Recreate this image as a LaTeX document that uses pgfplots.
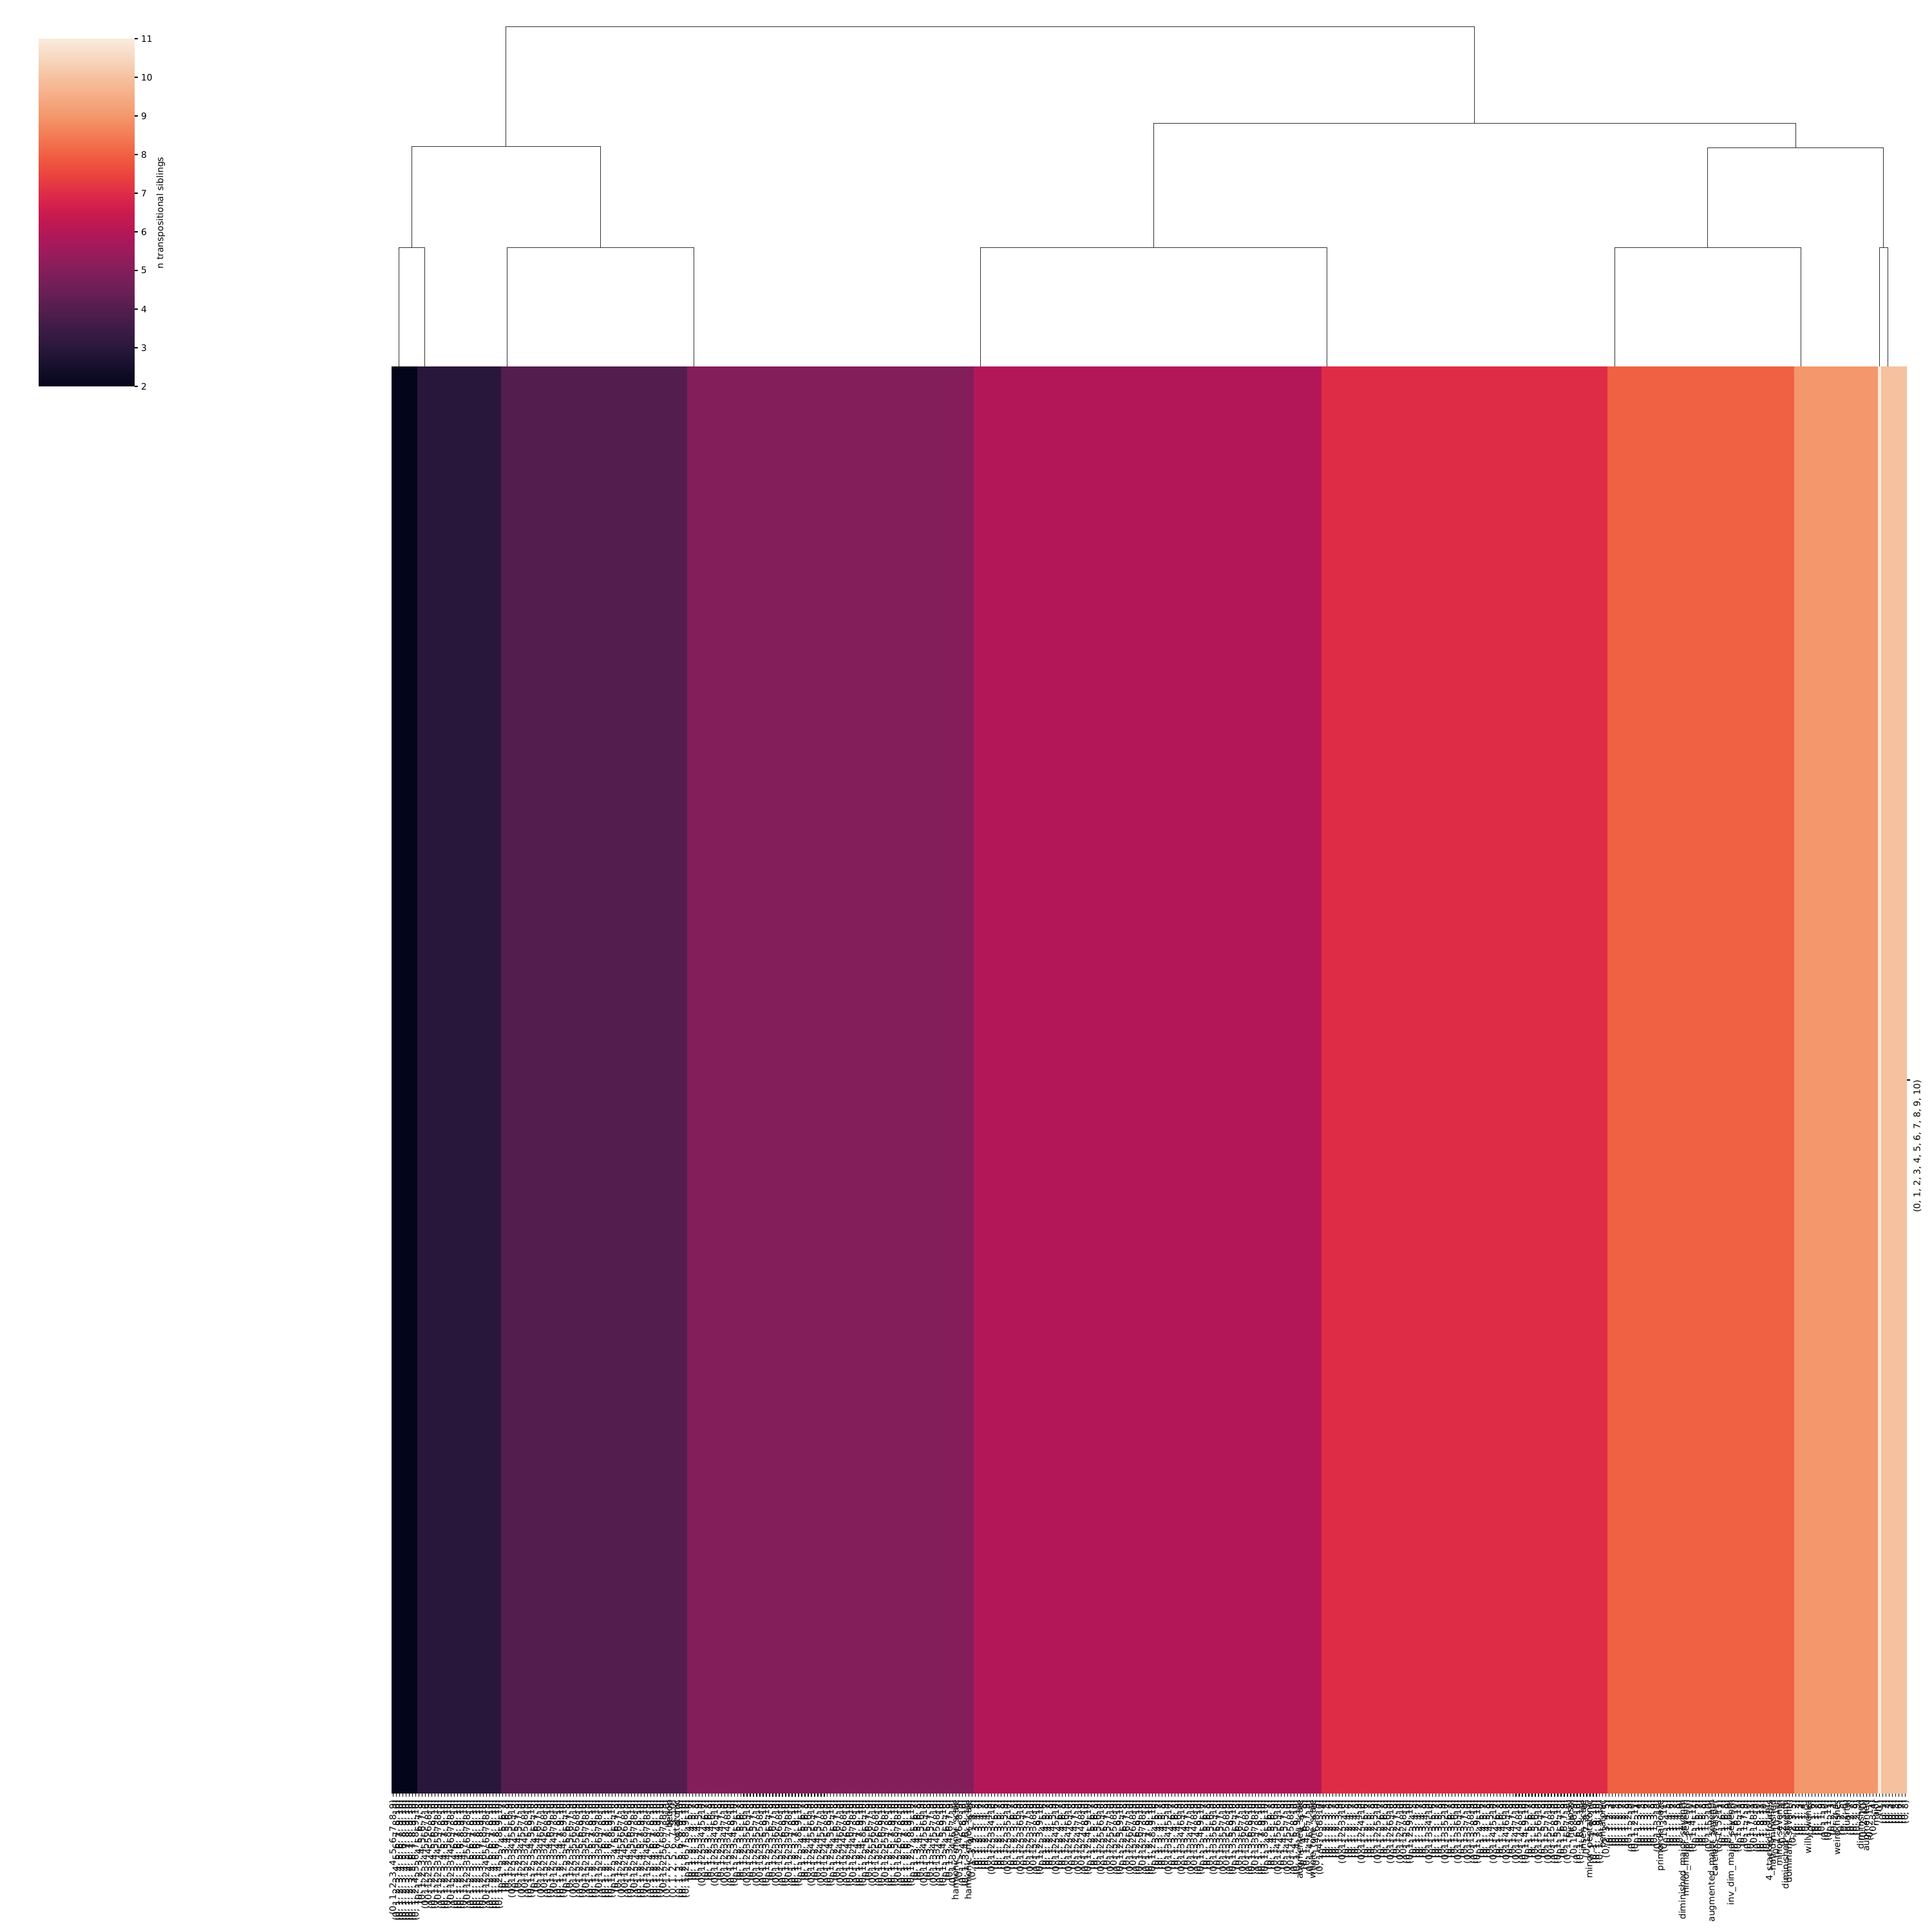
\documentclass[border=0pt]{standalone}
\usepackage{fontspec}
\setmainfont{DejaVu Sans}
\usepackage{pgfplots}
\pgfplotsset{compat=1.18}
\pgfplotsset{/pgf/number format/assume math mode=true}
\pgfplotsset{colormap={rocket}{rgb255=(3,5,26) rgb255=(22,15,43) rgb255=(41,23,59) rgb255=(62,27,70) rgb255=(83,30,78) rgb255=(108,31,86) rgb255=(131,30,90) rgb255=(157,27,92) rgb255=(180,23,87) rgb255=(203,27,79) rgb255=(222,44,70) rgb255=(235,69,61) rgb255=(240,96,67) rgb255=(243,124,85) rgb255=(244,151,108) rgb255=(245,172,133) rgb255=(246,193,159) rgb255=(248,215,192) rgb255=(250,235,221)}}
\definecolor{c2}{RGB}{3,5,26}
\definecolor{c3}{RGB}{41,23,59}
\definecolor{c4}{RGB}{83,30,78}
\definecolor{c5}{RGB}{131,30,90}
\definecolor{c6}{RGB}{180,23,87}
\definecolor{c7}{RGB}{222,44,70}
\definecolor{c8}{RGB}{240,96,67}
\definecolor{c9}{RGB}{244,151,108}
\definecolor{c10}{RGB}{246,193,159}
\definecolor{c11}{RGB}{250,235,221}
\definecolor{dend}{RGB}{51,51,51}
\tikzset{dendline/.style={dend, line width=0.6pt, mark=none, solid}}
\begin{document}
\begin{tikzpicture}
\useasboundingbox (0,0) rectangle (2160pt,2160pt);
% ---------------- heatmap (one row, 471 columns) ----------------
\begin{axis}[
  at={(437.76pt,154.8pt)}, anchor=south west,
  scale only axis, width=1694.16pt, height=1595.52pt,
  xmin=0, xmax=471, ymin=0, ymax=1,
  axis line style={draw=none},
  tick align=outside, major tick length=3.5pt,
  tick style={black, line width=0.8pt},
  xtick pos=left, ytick pos=right, yticklabel pos=right,
  xtick={0.5,1.5,...,470.5},
  xticklabel style={rotate=90, anchor=east, inner sep=0pt, font=\fontsize{10}{12}\selectfont},
  xticklabel shift=3.5pt,
  ytick={0.5},
  yticklabels={{(0, 1, 2, 3, 4, 5, 6, 7, 8, 9, 10)}},
  yticklabel style={rotate=90, anchor=north east, inner sep=0pt, font=\fontsize{10}{12}\selectfont},
  yticklabel shift=3.5pt,
  colormap name=rocket, point meta min=2, point meta max=11,
  colorbar,
  colorbar shift/.style={},
  colorbar/width=107.28pt,
  colorbar style={
    at={(parent axis.north west)}, anchor=north west,
    xshift=-394.56pt, yshift=366.48pt,
    scale only axis, width=107.28pt, height=388.8pt,
    axis line style={draw=none},
    xtick=\empty,
    ytick={2,3,...,11},
    ytick pos=right, yticklabel pos=right,
    tick align=outside, major tick length=3.5pt,
    tick style={black, line width=0.8pt},
    yticklabel style={anchor=west, inner sep=0pt, font=\fontsize{10}{12}\selectfont},
    yticklabel shift=3.5pt,
  },
  xticklabels={
  % value 2
  {(0, 1, 2, 3, 4, 5, 6, 7, 8, 9)},{(0, 1, 2, 3, 4, 5, 6, 7, 8, 10)},{(0, 1, 2, 3, 4, 5, 6, 7, 9, 10)},{(0, 1, 2, 3, 4, 5, 6, 8, 9, 10)},{(0, 1, 2, 3, 4, 5, 7, 8, 9, 10)},{(0, 1, 2, 3, 4, 6, 7, 8, 9, 10)},{(0, 1, 2, 3, 5, 6, 7, 8, 9, 10)},{(0, 1, 2, 4, 5, 6, 7, 8, 9, 10)},
  % value 3
  {(0, 1, 2, 3, 4, 5, 6, 7, 8)},{(0, 1, 2, 3, 4, 5, 6, 7, 9)},{(0, 1, 2, 3, 4, 5, 6, 7, 10)},{(0, 1, 2, 3, 4, 5, 6, 8, 9)},{(0, 1, 2, 3, 4, 5, 6, 8, 10)},{(0, 1, 2, 3, 4, 5, 6, 9, 10)},{(0, 1, 2, 3, 4, 5, 7, 8, 9)},{(0, 1, 2, 3, 4, 5, 7, 8, 10)},{(0, 1, 2, 3, 4, 5, 7, 9, 10)},{(0, 1, 2, 3, 4, 5, 8, 9, 10)},{(0, 1, 2, 3, 4, 6, 7, 8, 9)},{(0, 1, 2, 3, 4, 6, 7, 8, 10)},{(0, 1, 2, 3, 4, 6, 7, 9, 10)},{(0, 1, 2, 3, 4, 6, 8, 9, 10)},{(0, 1, 2, 3, 4, 7, 8, 9, 10)},{(0, 1, 2, 3, 5, 6, 7, 8, 9)},{(0, 1, 2, 3, 5, 6, 7, 8, 10)},{(0, 1, 2, 3, 5, 6, 7, 9, 10)},{(0, 1, 2, 3, 5, 6, 8, 9, 10)},{(0, 1, 2, 3, 5, 7, 8, 9, 10)},{(0, 1, 2, 3, 6, 7, 8, 9, 10)},{(0, 1, 2, 4, 5, 6, 7, 8, 9)},{(0, 1, 2, 4, 5, 6, 7, 8, 10)},{(0, 1, 2, 4, 5, 6, 7, 9, 10)},{(0, 1, 2, 4, 5, 6, 8, 9, 10)},{(0, 1, 2, 4, 5, 7, 8, 9, 10)},
  % value 4
  {(0, 1, 2, 3, 4, 5, 6, 7)},{(0, 1, 2, 3, 4, 5, 6, 8)},{(0, 1, 2, 3, 4, 5, 6, 9)},{(0, 1, 2, 3, 4, 5, 6, 10)},{(0, 1, 2, 3, 4, 5, 7, 8)},{(0, 1, 2, 3, 4, 5, 7, 9)},{(0, 1, 2, 3, 4, 5, 7, 10)},{(0, 1, 2, 3, 4, 5, 8, 9)},{(0, 1, 2, 3, 4, 5, 8, 10)},{(0, 1, 2, 3, 4, 5, 9, 10)},
  {(0, 1, 2, 3, 4, 6, 7, 8)},{(0, 1, 2, 3, 4, 6, 7, 9)},{(0, 1, 2, 3, 4, 6, 7, 10)},{(0, 1, 2, 3, 4, 6, 8, 9)},{(0, 1, 2, 3, 4, 6, 8, 10)},{(0, 1, 2, 3, 4, 6, 9, 10)},{(0, 1, 2, 3, 4, 7, 8, 9)},{(0, 1, 2, 3, 4, 7, 8, 10)},{(0, 1, 2, 3, 4, 7, 9, 10)},{(0, 1, 2, 3, 4, 8, 9, 10)},
  {(0, 1, 2, 3, 5, 6, 7, 8)},{(0, 1, 2, 3, 5, 6, 7, 9)},{(0, 1, 2, 3, 5, 6, 7, 10)},{(0, 1, 2, 3, 5, 6, 8, 9)},{(0, 1, 2, 3, 5, 6, 8, 10)},{(0, 1, 2, 3, 5, 6, 9, 10)},{(0, 1, 2, 3, 5, 7, 8, 9)},{(0, 1, 2, 3, 5, 7, 8, 10)},{(0, 1, 2, 3, 5, 7, 9, 10)},{(0, 1, 2, 3, 5, 8, 9, 10)},
  {(0, 1, 2, 3, 6, 7, 8, 9)},{(0, 1, 2, 3, 6, 7, 8, 10)},{(0, 1, 2, 3, 6, 7, 9, 10)},{(0, 1, 2, 3, 6, 8, 9, 10)},{(0, 1, 2, 3, 7, 8, 9, 10)},{(0, 1, 2, 4, 5, 6, 7, 8)},{(0, 1, 2, 4, 5, 6, 7, 9)},{(0, 1, 2, 4, 5, 6, 7, 10)},{(0, 1, 2, 4, 5, 6, 8, 9)},{(0, 1, 2, 4, 5, 6, 8, 10)},
  {(0, 1, 2, 4, 5, 6, 9, 10)},{(0, 1, 2, 4, 5, 7, 8, 9)},{(0, 1, 2, 4, 5, 7, 8, 10)},{(0, 1, 2, 4, 5, 7, 9, 10)},{(0, 1, 2, 4, 5, 8, 9, 10)},{(0, 1, 2, 4, 6, 7, 8, 9)},{(0, 1, 2, 4, 6, 7, 8, 10)},{(0, 1, 2, 4, 6, 7, 9, 10)},{(0, 1, 2, 4, 6, 8, 9, 10)},{(0, 1, 2, 4, 7, 8, 9, 10)},
  {(0, 1, 2, 5, 6, 7, 8, 9)},{(0, 1, 2, 5, 6, 7, 8, 10)},{bebop},{(0, 1, 2, 5, 6, 7, 9, 10)},{octatonic},{(0, 1, 2, 5, 6, 8, 9, 10)},{(0, 1, 2, 5, 7, 8, 9, 10)},{(0, 1, 2, 6, 7, 8, 9, 10)},
  % value 5
  {(0, 1, 2, 3, 4, 5, 6)},{(0, 1, 2, 3, 4, 5, 7)},{(0, 1, 2, 3, 4, 5, 8)},{(0, 1, 2, 3, 4, 5, 9)},{(0, 1, 2, 3, 4, 5, 10)},{(0, 1, 2, 3, 4, 6, 7)},{(0, 1, 2, 3, 4, 6, 8)},{(0, 1, 2, 3, 4, 6, 9)},{(0, 1, 2, 3, 4, 6, 10)},{(0, 1, 2, 3, 4, 7, 8)},
  {(0, 1, 2, 3, 4, 7, 9)},{(0, 1, 2, 3, 4, 7, 10)},{(0, 1, 2, 3, 4, 8, 9)},{(0, 1, 2, 3, 4, 8, 10)},{(0, 1, 2, 3, 4, 9, 10)},{(0, 1, 2, 3, 5, 6, 7)},{(0, 1, 2, 3, 5, 6, 8)},{(0, 1, 2, 3, 5, 6, 9)},{(0, 1, 2, 3, 5, 6, 10)},{(0, 1, 2, 3, 5, 7, 8)},
  {(0, 1, 2, 3, 5, 7, 9)},{(0, 1, 2, 3, 5, 7, 10)},{(0, 1, 2, 3, 5, 8, 9)},{(0, 1, 2, 3, 5, 8, 10)},{(0, 1, 2, 3, 5, 9, 10)},{(0, 1, 2, 3, 6, 7, 8)},{(0, 1, 2, 3, 6, 7, 9)},{(0, 1, 2, 3, 6, 7, 10)},{(0, 1, 2, 3, 6, 8, 9)},{(0, 1, 2, 3, 6, 8, 10)},
  {(0, 1, 2, 3, 6, 9, 10)},{(0, 1, 2, 3, 7, 8, 9)},{(0, 1, 2, 3, 7, 8, 10)},{(0, 1, 2, 3, 7, 9, 10)},{(0, 1, 2, 3, 8, 9, 10)},{(0, 1, 2, 4, 5, 6, 7)},{(0, 1, 2, 4, 5, 6, 8)},{(0, 1, 2, 4, 5, 6, 9)},{(0, 1, 2, 4, 5, 6, 10)},{(0, 1, 2, 4, 5, 7, 8)},
  {(0, 1, 2, 4, 5, 7, 9)},{(0, 1, 2, 4, 5, 7, 10)},{(0, 1, 2, 4, 5, 8, 9)},{(0, 1, 2, 4, 5, 8, 10)},{(0, 1, 2, 4, 5, 9, 10)},{(0, 1, 2, 4, 6, 7, 8)},{(0, 1, 2, 4, 6, 7, 9)},{(0, 1, 2, 4, 6, 7, 10)},{(0, 1, 2, 4, 6, 8, 9)},{(0, 1, 2, 4, 6, 8, 10)},
  {(0, 1, 2, 4, 6, 9, 10)},{(0, 1, 2, 4, 7, 8, 9)},{(0, 1, 2, 4, 7, 8, 10)},{(0, 1, 2, 4, 7, 9, 10)},{(0, 1, 2, 4, 8, 9, 10)},{(0, 1, 2, 5, 6, 7, 8)},{(0, 1, 2, 5, 6, 7, 9)},{(0, 1, 2, 5, 6, 7, 10)},{(0, 1, 2, 5, 6, 8, 9)},{(0, 1, 2, 5, 6, 8, 10)},
  {(0, 1, 2, 5, 6, 9, 10)},{(0, 1, 2, 5, 7, 8, 9)},{(0, 1, 2, 5, 7, 8, 10)},{(0, 1, 2, 5, 7, 9, 10)},{(0, 1, 2, 5, 8, 9, 10)},{(0, 1, 2, 6, 7, 8, 9)},{(0, 1, 2, 6, 7, 8, 10)},{(0, 1, 2, 6, 7, 9, 10)},{(0, 1, 2, 6, 8, 9, 10)},{(0, 1, 2, 7, 8, 9, 10)},
  {(0, 1, 3, 4, 5, 6, 7)},{(0, 1, 3, 4, 5, 6, 8)},{(0, 1, 3, 4, 5, 6, 9)},{(0, 1, 3, 4, 5, 6, 10)},{(0, 1, 3, 4, 5, 7, 8)},{(0, 1, 3, 4, 5, 7, 9)},{(0, 1, 3, 4, 5, 7, 10)},{(0, 1, 3, 4, 5, 8, 9)},{(0, 1, 3, 4, 5, 8, 10)},{(0, 1, 3, 4, 5, 9, 10)},
  {(0, 1, 3, 4, 6, 7, 8)},{(0, 1, 3, 4, 6, 7, 9)},{(0, 1, 3, 4, 6, 7, 10)},{harmonic\_minor\_scale},{(0, 1, 3, 4, 6, 8, 9)},{(0, 1, 3, 4, 6, 8, 10)},{(0, 1, 3, 4, 6, 9, 10)},{harmonic\_major\_scale},{(0, 1, 3, 4, 7, 8, 9)},
  % value 6
  {(0, 1, 2, 3, 4, 5)},{(0, 1, 2, 3, 4, 6)},{(0, 1, 2, 3, 4, 7)},{(0, 1, 2, 3, 4, 8)},{(0, 1, 2, 3, 4, 9)},{(0, 1, 2, 3, 4, 10)},{(0, 1, 2, 3, 5, 6)},{(0, 1, 2, 3, 5, 7)},{(0, 1, 2, 3, 5, 8)},{(0, 1, 2, 3, 5, 9)},
  {(0, 1, 2, 3, 5, 10)},{(0, 1, 2, 3, 6, 7)},{(0, 1, 2, 3, 6, 8)},{(0, 1, 2, 3, 6, 9)},{(0, 1, 2, 3, 6, 10)},{(0, 1, 2, 3, 7, 8)},{(0, 1, 2, 3, 7, 9)},{(0, 1, 2, 3, 7, 10)},{(0, 1, 2, 3, 8, 9)},{(0, 1, 2, 3, 8, 10)},
  {(0, 1, 2, 3, 9, 10)},{(0, 1, 2, 4, 5, 6)},{(0, 1, 2, 4, 5, 7)},{(0, 1, 2, 4, 5, 8)},{(0, 1, 2, 4, 5, 9)},{(0, 1, 2, 4, 5, 10)},{(0, 1, 2, 4, 6, 7)},{(0, 1, 2, 4, 6, 8)},{(0, 1, 2, 4, 6, 9)},{(0, 1, 2, 4, 6, 10)},
  {(0, 1, 2, 4, 7, 8)},{(0, 1, 2, 4, 7, 9)},{(0, 1, 2, 4, 7, 10)},{(0, 1, 2, 4, 8, 9)},{(0, 1, 2, 4, 8, 10)},{(0, 1, 2, 4, 9, 10)},{(0, 1, 2, 5, 6, 7)},{(0, 1, 2, 5, 6, 8)},{(0, 1, 2, 5, 6, 9)},{(0, 1, 2, 5, 6, 10)},
  {(0, 1, 2, 5, 7, 8)},{(0, 1, 2, 5, 7, 9)},{(0, 1, 2, 5, 7, 10)},{(0, 1, 2, 5, 8, 9)},{(0, 1, 2, 5, 8, 10)},{(0, 1, 2, 5, 9, 10)},{(0, 1, 2, 6, 7, 8)},{(0, 1, 2, 6, 7, 9)},{(0, 1, 2, 6, 7, 10)},{(0, 1, 2, 6, 8, 9)},
  {(0, 1, 2, 6, 8, 10)},{(0, 1, 2, 6, 9, 10)},{(0, 1, 2, 7, 8, 9)},{(0, 1, 2, 7, 8, 10)},{(0, 1, 2, 7, 9, 10)},{(0, 1, 2, 8, 9, 10)},{(0, 1, 3, 4, 5, 6)},{(0, 1, 3, 4, 5, 7)},{(0, 1, 3, 4, 5, 8)},{(0, 1, 3, 4, 5, 9)},
  {(0, 1, 3, 4, 5, 10)},{(0, 1, 3, 4, 6, 7)},{(0, 1, 3, 4, 6, 8)},{(0, 1, 3, 4, 6, 9)},{(0, 1, 3, 4, 6, 10)},{(0, 1, 3, 4, 7, 8)},{(0, 1, 3, 4, 7, 9)},{(0, 1, 3, 4, 7, 10)},{(0, 1, 3, 4, 8, 9)},{(0, 1, 3, 4, 8, 10)},
  {(0, 1, 3, 4, 9, 10)},{(0, 1, 3, 5, 6, 7)},{(0, 1, 3, 5, 6, 8)},{(0, 1, 3, 5, 6, 9)},{(0, 1, 3, 5, 6, 10)},{(0, 1, 3, 5, 7, 8)},{(0, 1, 3, 5, 7, 9)},{(0, 1, 3, 5, 7, 10)},{(0, 1, 3, 5, 8, 9)},{(0, 1, 3, 5, 8, 10)},
  {(0, 1, 3, 5, 9, 10)},{(0, 1, 3, 6, 7, 8)},{(0, 1, 3, 6, 7, 9)},{(0, 1, 3, 6, 7, 10)},{(0, 1, 3, 6, 8, 9)},{(0, 1, 3, 6, 8, 10)},{(0, 1, 3, 6, 9, 10)},{(0, 1, 3, 7, 8, 9)},{(0, 1, 3, 7, 8, 10)},{(0, 1, 3, 7, 9, 10)},
  {(0, 1, 3, 8, 9, 10)},{(0, 1, 4, 5, 6, 7)},{(0, 1, 4, 5, 6, 8)},{(0, 1, 4, 5, 6, 9)},{(0, 1, 4, 5, 6, 10)},{(0, 1, 4, 5, 7, 8)},{(0, 1, 4, 5, 7, 9)},{(0, 1, 4, 5, 7, 10)},{(0, 1, 4, 5, 8, 9)},{(0, 1, 4, 5, 8, 10)},
  {(0, 1, 4, 5, 9, 10)},{augmented\_scale},{(0, 1, 4, 6, 7, 8)},{(0, 1, 4, 6, 7, 9)},{(0, 1, 4, 6, 7, 10)},{whole\_tone\_scale},{(0, 1, 4, 6, 8, 9)},{(0, 1, 4, 6, 8, 10)},
  % value 7
  {(0, 1, 2, 3, 4)},{(0, 1, 2, 3, 5)},{(0, 1, 2, 3, 6)},{(0, 1, 2, 3, 7)},{(0, 1, 2, 3, 8)},{(0, 1, 2, 3, 9)},{(0, 1, 2, 3, 10)},{(0, 1, 2, 4, 5)},{(0, 1, 2, 4, 6)},{(0, 1, 2, 4, 7)},
  {(0, 1, 2, 4, 8)},{(0, 1, 2, 4, 9)},{(0, 1, 2, 4, 10)},{(0, 1, 2, 5, 6)},{(0, 1, 2, 5, 7)},{(0, 1, 2, 5, 8)},{(0, 1, 2, 5, 9)},{(0, 1, 2, 5, 10)},{(0, 1, 2, 6, 7)},{(0, 1, 2, 6, 8)},
  {(0, 1, 2, 6, 9)},{(0, 1, 2, 6, 10)},{(0, 1, 2, 7, 8)},{(0, 1, 2, 7, 9)},{(0, 1, 2, 7, 10)},{(0, 1, 2, 8, 9)},{(0, 1, 2, 8, 10)},{(0, 1, 2, 9, 10)},{(0, 1, 3, 4, 5)},{(0, 1, 3, 4, 6)},
  {(0, 1, 3, 4, 7)},{(0, 1, 3, 4, 8)},{(0, 1, 3, 4, 9)},{(0, 1, 3, 4, 10)},{(0, 1, 3, 5, 6)},{(0, 1, 3, 5, 7)},{(0, 1, 3, 5, 8)},{(0, 1, 3, 5, 9)},{(0, 1, 3, 5, 10)},{(0, 1, 3, 6, 7)},
  {(0, 1, 3, 6, 8)},{(0, 1, 3, 6, 9)},{(0, 1, 3, 6, 10)},{(0, 1, 3, 7, 8)},{(0, 1, 3, 7, 9)},{(0, 1, 3, 7, 10)},{(0, 1, 3, 8, 9)},{(0, 1, 3, 8, 10)},{(0, 1, 3, 9, 10)},{(0, 1, 4, 5, 6)},
  {(0, 1, 4, 5, 7)},{(0, 1, 4, 5, 8)},{(0, 1, 4, 5, 9)},{(0, 1, 4, 5, 10)},{(0, 1, 4, 6, 7)},{(0, 1, 4, 6, 8)},{(0, 1, 4, 6, 9)},{(0, 1, 4, 6, 10)},{(0, 1, 4, 7, 8)},{(0, 1, 4, 7, 9)},
  {(0, 1, 4, 7, 10)},{(0, 1, 4, 8, 9)},{(0, 1, 4, 8, 10)},{(0, 1, 4, 9, 10)},{(0, 1, 5, 6, 7)},{(0, 1, 5, 6, 8)},{(0, 1, 5, 6, 9)},{(0, 1, 5, 6, 10)},{(0, 1, 5, 7, 8)},{(0, 1, 5, 7, 9)},
  {(0, 1, 5, 7, 10)},{(0, 1, 5, 8, 9)},{(0, 1, 5, 8, 10)},{(0, 1, 5, 9, 10)},{(0, 1, 6, 7, 8)},{(0, 1, 6, 7, 9)},{(0, 1, 6, 7, 10)},{hirajoshi},{(0, 1, 6, 8, 9)},{(0, 1, 6, 8, 10)},
  {(0, 1, 6, 9, 10)},{insen\_scale},{(0, 1, 7, 8, 9)},{minor\_pentatonic},{(0, 1, 7, 8, 10)},{(0, 1, 7, 9, 10)},{(0, 1, 8, 9, 10)},{pentatonic},{(0, 2, 3, 4, 5)},
  % value 8
  {(0, 1, 2, 3)},{(0, 1, 2, 4)},{(0, 1, 2, 5)},{(0, 1, 2, 6)},{(0, 1, 2, 7)},{(0, 1, 2, 8)},{(0, 1, 2, 9)},{(0, 1, 2, 10)},{(0, 1, 2, 11)},{(0, 1, 3, 4)},
  {(0, 1, 3, 5)},{(0, 1, 3, 6)},{(0, 1, 3, 7)},{(0, 1, 3, 8)},{(0, 1, 3, 9)},{(0, 1, 3, 10)},{primordial\_ooze},{(0, 1, 3, 11)},{(0, 1, 4, 5)},{(0, 1, 4, 6)},
  {(0, 1, 4, 7)},{(0, 1, 4, 8)},{(0, 1, 4, 9)},{diminished\_major\_seventh},{minor\_major\_seventh},{(0, 1, 4, 10)},{(0, 1, 4, 11)},{(0, 1, 5, 6)},{(0, 1, 5, 7)},{(0, 1, 5, 8)},
  {(0, 1, 5, 9)},{(0, 1, 5, 10)},{augmented\_major\_seventh},{careless\_whisper},{(0, 1, 5, 11)},{(0, 1, 6, 7)},{(0, 1, 6, 8)},{(0, 1, 6, 9)},{inv\_dim\_major\_seventh},{(0, 1, 6, 10)},
  {(0, 1, 6, 11)},{(0, 1, 7, 8)},{(0, 1, 7, 9)},{(0, 1, 7, 10)},{(0, 1, 7, 11)},{(0, 1, 8, 9)},{(0, 1, 8, 10)},{(0, 1, 8, 11)},{(0, 1, 9, 10)},{(0, 1, 9, 11)},
  {4\_stacked\_fourths},{half\_diminished},{(0, 1, 10, 11)},{minor\_seventh},{(0, 2, 3, 4)},{diminished\_seventh},{dominant\_seventh},{(0, 2, 3, 5)},
  % value 9
  {(0, 1, 2)},{(0, 1, 3)},{(0, 1, 4)},{(0, 1, 5)},{willy\_wonka},{(0, 1, 6)},{(0, 1, 7)},{(0, 1, 8)},{(0, 1, 9)},{(0, 1, 10)},
  {(0, 1, 11)},{(0, 2, 3)},{(0, 2, 4)},{weird\_fishes},{(0, 2, 5)},{(0, 2, 6)},{quartal},{(0, 2, 7)},{(0, 2, 8)},{(0, 2, 9)},
  {diminished},{(0, 2, 10)},{augmented},{(0, 2, 11)},{(0, 3, 4)},{major},
  % value 11
  {(0,)},
  % value 10
  {(0, 1)},{(0, 2)},{(0, 3)},{(0, 4)},{(0, 5)},{(0, 6)},{(0, 7)},{(0, 8)}
  },
]
% column ranges [start, end) of each value: n transpositional siblings
\addplot[ybar interval, fill=c2, draw=c2, line width=0.2pt] coordinates {(0,1) (8,1)};
\addplot[ybar interval, fill=c3, draw=c3, line width=0.2pt] coordinates {(8,1) (34,1)};
\addplot[ybar interval, fill=c4, draw=c4, line width=0.2pt] coordinates {(34,1) (92,1)};
\addplot[ybar interval, fill=c5, draw=c5, line width=0.2pt] coordinates {(92,1) (181,1)};
\addplot[ybar interval, fill=c6, draw=c6, line width=0.2pt] coordinates {(181,1) (289,1)};
\addplot[ybar interval, fill=c7, draw=c7, line width=0.2pt] coordinates {(289,1) (378,1)};
\addplot[ybar interval, fill=c8, draw=c8, line width=0.2pt] coordinates {(378,1) (436,1)};
\addplot[ybar interval, fill=c9, draw=c9, line width=0.2pt] coordinates {(436,1) (462,1)};
\addplot[ybar interval, fill=c11, draw=c11, line width=0.2pt] coordinates {(462,1) (463,1)};
\addplot[ybar interval, fill=c10, draw=c10, line width=0.2pt] coordinates {(463,1) (471,1)};
\end{axis}
% ---------------- column dendrogram ----------------
\begin{axis}[
  at={(437.76pt,1750.32pt)}, anchor=south west,
  scale only axis, width=1694.16pt, height=403.2pt,
  xmin=0, xmax=471, ymin=0, ymax=560,
  hide axis, clip=false,
]
\addplot[dendline] coordinates {(2.2,0) (2.2,185) (10.2,185) (10.2,0)};
\addplot[dendline] coordinates {(36.0,0) (36.0,185) (93.9,185) (93.9,0)};
\addplot[dendline] coordinates {(6.2,185) (6.2,342) (65.0,342) (65.0,185)};
\addplot[dendline] coordinates {(183.1,0) (183.1,185) (290.8,185) (290.8,0)};
\addplot[dendline] coordinates {(380.1,0) (380.1,185) (438.0,185) (438.0,0)};
\addplot[dendline] coordinates {(462.4,0) (462.4,185) (465.0,185) (465.0,0)};
\addplot[dendline] coordinates {(409.1,185) (409.1,340) (463.7,340) (463.7,185)};
\addplot[dendline] coordinates {(236.8,185) (236.8,378) (436.4,378) (436.4,340)};
\addplot[dendline] coordinates {(35.6,342) (35.6,528) (336.6,528) (336.6,378)};
\end{axis}
\node[rotate=90, font=\fontsize{10}{12}\selectfont, inner sep=0pt] at (179.7pt,1922pt) {n transpositional siblings};
\end{tikzpicture}
\end{document}
